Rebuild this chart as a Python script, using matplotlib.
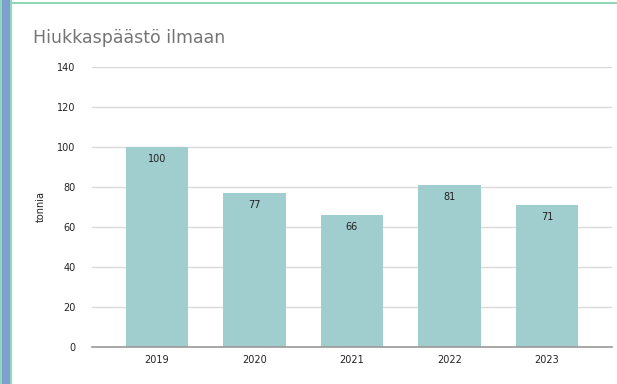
import matplotlib
matplotlib.use("Agg")
import matplotlib.pyplot as plt
from matplotlib.patches import Rectangle

years = ["2019", "2020", "2021", "2022", "2023"]
emissions = [100, 77, 66, 81, 71]
yticks = [0, 20, 40, 60, 80, 100, 120, 140]

W, H = 617, 384
fig = plt.figure(figsize=(W / 100, H / 100), dpi=100)
fig.patch.set_facecolor("white")

# page edge on the left and the card border
fig.patches.append(Rectangle((0, 0), 10 / W, 1, transform=fig.transFigure,
                             facecolor="#7f9fd0", edgecolor="none", zorder=0))
fig.patches.append(Rectangle((0, 0), 2 / W, 1, transform=fig.transFigure,
                             facecolor="#8fd8b8", edgecolor="none", zorder=1))
fig.patches.append(Rectangle((10 / W, 0), 2 / W, 1, transform=fig.transFigure,
                             facecolor="#8fd8b8", edgecolor="none", zorder=1))
fig.patches.append(Rectangle((10 / W, 1 - 4 / H), 1, 2 / H, transform=fig.transFigure,
                             facecolor="#8fd8b8", edgecolor="none", zorder=1))

ax = fig.add_axes([92 / W, 1 - 347 / H, 520 / W, 280 / H])
x = range(len(years))
bars = ax.bar(x, emissions, width=0.64, color="#a0cdcd", zorder=2)

for xi, v in zip(x, emissions):
    ax.text(xi, v - 6, str(v), ha="center", va="center", fontsize=7,
            color="#222222", zorder=3)

ax.set_xlim(-0.667, 4.667)
ax.set_ylim(0, 140)
ax.set_yticks(yticks)
ax.set_xticks(list(x))
ax.set_xticklabels(years)
ax.tick_params(axis="both", length=0, labelsize=7, colors="#222222")
ax.tick_params(axis="y", pad=12)
ax.tick_params(axis="x", pad=6)
ax.grid(axis="y", color="#dadada", linewidth=1, zorder=0)
ax.set_axisbelow(True)
for s in ["top", "right", "left"]:
    ax.spines[s].set_visible(False)
ax.spines["bottom"].set_color("#999999")
ax.spines["bottom"].set_linewidth(1.2)
ax.spines["bottom"].set_zorder(4)

ax.set_ylabel("tonnia", fontsize=7, color="#222222", labelpad=8)

fig.text(33 / W, 1 - 38 / H, "Hiukkaspäästö ilmaan", fontsize=12.5,
         color="#757575", ha="left", va="center")

fig.savefig("out.png", dpi=100)
